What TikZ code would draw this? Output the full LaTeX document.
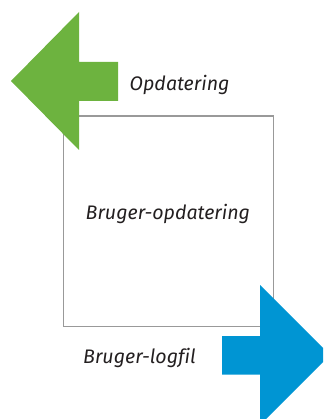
\documentclass[tikz,border=0pt]{standalone}
\usepackage{fontspec}
\setmainfont[Ligatures=NoCommon]{Fira Sans}
\definecolor{arrgreen}{HTML}{6DB33F}
\definecolor{arrblue}{HTML}{0095D3}
\definecolor{boxgray}{HTML}{999999}
\definecolor{txt}{HTML}{231F20}
\tikzset{
  lbl/.style={anchor=base west, inner sep=0pt, font=\fontsize{19.6}{23}\selectfont\itshape, text=txt},
  frame/.style={draw=boxgray, line width=1.3pt, rectangle, inner sep=0pt},
}
\begin{document}
\begin{tikzpicture}[x=1pt,y=-1pt]
\useasboundingbox (0,0) rectangle (323,419);
\begin{scope}
\clip (0,0) rectangle (323,419);
\node[frame, minimum width=210pt, minimum height=210.5pt] (box) at (168.5,221.2) {};
\fill[arrgreen] (11,81) -- (79,12) -- (79,62) -- (118,62) -- (118,101) -- (79,101) -- (79,150) -- cycle;
\fill[arrblue] (330,355) -- (260,285) -- (260,336) -- (222,336) -- (222,374.7) -- (260,374.7) -- (260,425) -- cycle;
\end{scope}
\node[lbl] (upd) at (129.5,90.7) {Opdatering};
\node[lbl] (bupd) at (85.5,219.3) {Bruger-opdatering};
\node[lbl] (blog) at (83,363.5) {Bruger-logfil};
\end{tikzpicture}
\end{document}
